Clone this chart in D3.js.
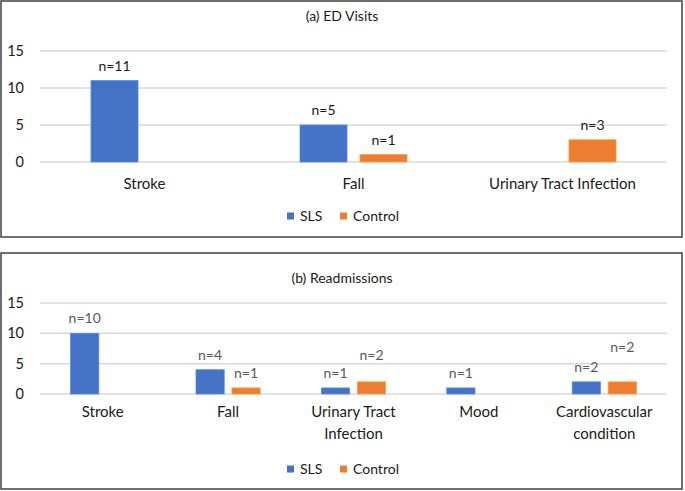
<!DOCTYPE html>
<html>
<head>
<meta charset="utf-8">
<script src="https://cdn.jsdelivr.net/npm/d3@7"></script>
<style>
  body { margin: 0; background: #fff; }
  text { font-family: Lato, "Open Sans", sans-serif; }
</style>
</head>
<body>
<div id="chart"></div>
<script>
var series = ["SLS", "Control"];
var colors = ["#4472C4", "#ED7D31"];
var yTicks = [0, 5, 10, 15];

var edCategories = ["Stroke", "Fall", "Urinary Tract Infection"];
var edSLS = [11, 5, 0];
var edControl = [0, 1, 3];

var readCategories = [["Stroke"], ["Fall"], ["Urinary Tract", "Infection"], ["Mood"], ["Cardiovascular", "condition"]];
var readSLS = [10, 4, 1, 1, 2];
var readControl = [0, 1, 2, 0, 2];

var width = 685, height = 491;

var svg = d3.select("#chart")
    .append("svg")
    .attr("width", width)
    .attr("height", height);

function drawPanel(opt) {
    var g = svg.append("g");

    g.append("rect")
        .attr("x", opt.box[0])
        .attr("y", opt.box[1])
        .attr("width", opt.box[2])
        .attr("height", opt.box[3])
        .attr("fill", "#fff")
        .attr("stroke", "#3f3f3f")
        .attr("stroke-width", 1.5);

    g.append("text")
        .text(opt.title)
        .attr("x", 342)
        .attr("y", opt.titleY)
        .attr("text-anchor", "middle")
        .attr("font-size", 14)
        .attr("fill", "#1a1a1a");

    var x = d3.scaleBand()
        .domain(d3.range(opt.cats.length))
        .range([40, 667]);

    var y = d3.scaleLinear()
        .domain([0, 15])
        .range(opt.yRange);

    var bw = x.bandwidth();
    var xs = d3.scalePoint()
        .domain(series)
        .range([-0.1435 * bw, 0.1435 * bw]);
    var barW = 0.225 * bw;

    // gridlines
    g.selectAll(".grid")
        .data(yTicks)
        .enter()
        .append("line")
        .attr("x1", 40)
        .attr("x2", 667)
        .attr("y1", function (d) { return y(d); })
        .attr("y2", function (d) { return y(d); })
        .attr("stroke", "#d9d9d9")
        .attr("stroke-width", 1.5);

    g.selectAll(".ytick")
        .data(yTicks)
        .enter()
        .append("text")
        .text(function (d) { return d; })
        .attr("x", 24)
        .attr("y", function (d) { return y(d); })
        .attr("dy", "0.35em")
        .attr("text-anchor", "end")
        .attr("font-size", 14.5)
        .attr("fill", "#1a1a1a");

    // category labels
    opt.cats.forEach(function (c, i) {
        var lines = Array.isArray(c) ? c : [c];
        lines.forEach(function (l, j) {
            g.append("text")
                .text(l)
                .attr("x", x(i) + bw / 2)
                .attr("y", opt.catY + j * 22)
                .attr("dy", "0.35em")
                .attr("text-anchor", "middle")
                .attr("font-size", 15)
                .attr("fill", "#1a1a1a");
        });
    });

    // bars
    [opt.sls, opt.control].forEach(function (vals, s) {
        vals.forEach(function (v, i) {
            if (!v) return;
            var cx = x(i) + bw / 2 + xs(series[s]);
            g.append("rect")
                .attr("x", cx - barW / 2)
                .attr("y", y(v))
                .attr("width", barW)
                .attr("height", y(0) - y(v))
                .attr("fill", colors[s])
                .attr("stroke", d3.color(colors[s]).brighter(0.6))
                .attr("stroke-width", 0.8);
            var nudge = (opt.nudge[s] && opt.nudge[s][i]) || 0;
            g.append("text")
                .text("n=" + v)
                .attr("x", cx)
                .attr("y", y(v) - 15 - nudge)
                .attr("dy", "0.35em")
                .attr("text-anchor", "middle")
                .attr("font-size", 14)
                .attr("fill", opt.labelColor);
        });
    });

    // legend
    var lg = g.append("g");
    lg.append("rect").attr("x", 287).attr("y", opt.legendY - 3.5).attr("width", 7).attr("height", 7).attr("fill", colors[0]);
    lg.append("text").text("SLS").attr("x", 300).attr("y", opt.legendY).attr("dy", "0.35em")
        .attr("font-size", 14).attr("fill", "#1a1a1a");
    lg.append("rect").attr("x", 340).attr("y", opt.legendY - 3.5).attr("width", 7).attr("height", 7).attr("fill", colors[1]);
    lg.append("text").text("Control").attr("x", 353).attr("y", opt.legendY).attr("dy", "0.35em")
        .attr("font-size", 14).attr("fill", "#1a1a1a");
}

drawPanel({
    box: [1, 1, 681, 236],
    title: "(a) ED Visits",
    titleY: 21,
    cats: edCategories,
    sls: edSLS,
    control: edControl,
    yRange: [162, 51],
    catY: 184,
    legendY: 216,
    labelColor: "#1a1a1a",
    nudge: [[], []]
});

drawPanel({
    box: [1, 253, 681, 236],
    title: "(b) Readmissions",
    titleY: 283,
    cats: readCategories,
    sls: readSLS,
    control: readControl,
    yRange: [394, 303],
    catY: 412,
    legendY: 469,
    labelColor: "#595959",
    nudge: [[], [0, 0, 12, 0, 20]]
});
</script>
</body>
</html>
